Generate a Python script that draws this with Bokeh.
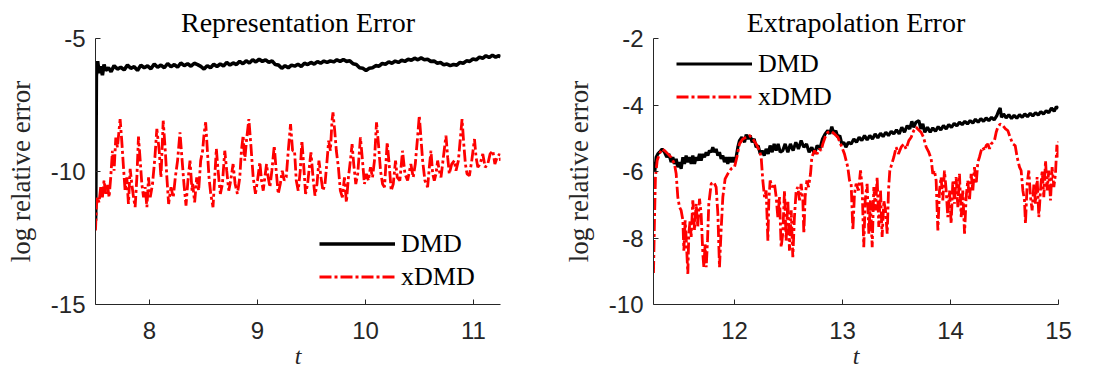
from bokeh.plotting import figure
from bokeh.models import Legend, LegendItem, Range1d, FixedTicker
from bokeh.layouts import row
from bokeh.embed import file_html
from bokeh.resources import INLINE

# ---------------- data: left panel (Representation Error) ----------------
rep_dmd_t = [7.5, 7.502, 7.508, 7.52, 7.533, 7.548, 7.564, 7.579, 7.595, 7.62, 7.644, 7.672, 7.703, 7.734,
             7.765, 7.796, 7.827, 7.858, 7.889, 7.92, 7.951, 7.982, 8.013, 8.044, 8.075, 8.106, 8.137, 8.168,
             8.199, 8.23, 8.26, 8.29, 8.322, 8.353, 8.384, 8.415, 8.445, 8.475, 8.505, 8.535, 8.565, 8.595,
             8.625, 8.655, 8.685, 8.715, 8.745, 8.775, 8.805, 8.835, 8.865, 8.895, 8.925, 8.955, 8.985, 9.015,
             9.045, 9.075, 9.105, 9.135, 9.165, 9.195, 9.225, 9.255, 9.285, 9.315, 9.345, 9.375, 9.405, 9.435,
             9.465, 9.495, 9.525, 9.555, 9.585, 9.615, 9.645, 9.675, 9.705, 9.735, 9.765, 9.795, 9.825, 9.855,
             9.885, 9.915, 9.945, 9.975, 10.005, 10.035, 10.065, 10.095, 10.125, 10.155, 10.185, 10.215, 10.245,
             10.275, 10.305, 10.335, 10.365, 10.395, 10.425, 10.455, 10.485, 10.515, 10.545, 10.575, 10.605,
             10.635, 10.665, 10.695, 10.725, 10.755, 10.785, 10.815, 10.845, 10.875, 10.905, 10.935, 10.965,
             10.995, 11.025, 11.055, 11.085, 11.115, 11.145, 11.175, 11.205, 11.235, 11.25]
rep_dmd = [-11.85, -11.6, -6.4, -5.85, -6.3, -6.05, -6.38, -5.98, -6.2, -6.1, -6.25, -6.02, -6.15, -6.08,
           -6.18, -6.0, -6.12, -6.06, -6.2, -6.0, -6.1, -6.03, -6.14, -5.96, -6.08, -6.0, -6.1, -5.94,
           -6.06, -5.98, -6.08, -5.92, -6.02, -5.95, -6.04, -5.93, -5.98, -6.05, -6.15, -6.02, -6.1, -5.97,
           -6.05, -5.96, -6.03, -5.9, -6.0, -5.92, -5.98, -5.86, -5.95, -5.84, -5.92, -5.8, -5.88, -5.78,
           -5.86, -5.8, -5.9, -5.84, -5.98, -6.0, -6.12, -6.02, -6.1, -6.0, -6.04, -5.97, -6.05, -5.93,
           -5.98, -5.9, -5.96, -5.87, -5.93, -5.85, -5.9, -5.84, -5.88, -5.8, -5.86, -5.79, -5.86, -5.84,
           -5.95, -5.98, -6.1, -6.12, -6.2, -6.12, -6.1, -6.02, -6.04, -5.94, -5.97, -5.88, -5.93,
           -5.85, -5.9, -5.82, -5.86, -5.78, -5.82, -5.74, -5.8, -5.73, -5.8, -5.78, -5.86,
           -5.85, -5.93, -5.9, -5.99, -5.96, -6.02, -5.98, -6.0, -5.9, -5.93, -5.84, -5.86,
           -5.77, -5.8, -5.7, -5.74, -5.65, -5.71, -5.63, -5.7, -5.64, -5.7]

rep_xdmd_t = [7.5, 7.508, 7.517, 7.533, 7.548, 7.564, 7.579, 7.595, 7.61, 7.626, 7.641, 7.657, 7.672, 7.688,
              7.703, 7.728, 7.743, 7.759, 7.774, 7.79, 7.805, 7.821, 7.836, 7.852, 7.867, 7.883, 7.898, 7.914,
              7.929, 7.945, 7.96, 7.976, 7.991, 8.007, 8.028, 8.05, 8.068, 8.09, 8.106, 8.127, 8.146, 8.161,
              8.177, 8.199, 8.22, 8.239, 8.26, 8.282, 8.3, 8.319, 8.338, 8.356, 8.375, 8.394,
              8.40, 8.418, 8.437, 8.455, 8.474, 8.492, 8.505, 8.52, 8.536, 8.551, 8.567, 8.588, 8.604, 8.619,
              8.635, 8.656, 8.675, 8.697, 8.715, 8.734, 8.752, 8.774, 8.793, 8.814, 8.836, 8.851, 8.867, 8.882,
              8.898, 8.92, 8.938, 8.96, 8.981, 9.0, 9.022, 9.037, 9.053, 9.068, 9.084, 9.099, 9.115, 9.133,
              9.155, 9.173, 9.192, 9.211, 9.229, 9.248, 9.266, 9.285, 9.306, 9.325,
              9.343, 9.359, 9.377, 9.396, 9.411, 9.427, 9.445, 9.464, 9.483, 9.495, 9.514, 9.532, 9.551, 9.569,
              9.588, 9.606, 9.625, 9.644, 9.659, 9.675, 9.69, 9.699, 9.715, 9.73, 9.749, 9.767, 9.786, 9.805,
              9.823, 9.842, 9.86, 9.876, 9.891, 9.91, 9.928, 9.953, 9.972, 9.99, 10.009, 10.027, 10.046, 10.065,
              10.083, 10.102, 10.12, 10.139, 10.158, 10.176, 10.201, 10.219, 10.238, 10.257, 10.278, 10.294,
              10.318, 10.343, 10.365, 10.39, 10.42, 10.442, 10.461, 10.482, 10.498, 10.513, 10.529, 10.55,
              10.575, 10.591, 10.606, 10.622, 10.637, 10.653, 10.668, 10.683, 10.699, 10.721, 10.745, 10.761,
              10.776, 10.798, 10.823, 10.838, 10.86, 10.879, 10.894, 10.91, 10.925, 10.94, 10.962, 10.984,
              11.009, 11.024, 11.04, 11.061, 11.086, 11.108, 11.132, 11.154, 11.179, 11.198, 11.219, 11.241, 11.25]
rep_xdmd = [-12.22, -11.34, -10.97, -11.16, -10.59, -10.97, -10.34, -10.84, -10.47, -10.97, -10.22, -9.22, -9.97, -8.72,
            -9.09, -8.03, -8.84, -9.84, -10.72, -10.22, -11.22, -9.9, -10.47, -10.97, -11.34, -10.22, -8.69, -9.59,
            -10.47, -10.97, -10.59, -11.34, -10.22, -10.97, -10.47, -9.47, -8.4, -9.22, -10.22, -8.09, -9.22, -10.22,
            -11.22, -10.59, -10.97, -10.22, -9.59, -8.53, -9.47, -10.47, -11.28, -10.34, -9.59, -10.72,
            -10.47, -11.16, -10.22, -10.72, -9.59, -9.22, -8.59, -8.15, -9.22, -10.22, -10.84, -11.34, -10.22, -9.15,
            -9.97, -10.84, -10.47, -9.22, -9.97, -10.72, -10.34, -9.72, -10.47, -10.84, -10.22, -9.22, -8.65, -9.59,
            -8.84, -8.03, -8.97, -10.22, -10.84, -10.34, -9.65, -10.34, -10.72, -10.22, -9.72, -10.22, -10.59, -9.97,
            -9.03, -9.97, -10.84, -10.47, -9.97, -10.34, -10.22, -9.22, -8.22, -9.22,
            -9.22, -10.34, -10.72, -9.97, -8.84, -9.72, -10.84, -10.47, -9.72, -9.28, -10.22, -10.91, -10.47, -9.59,
            -10.22, -10.72, -10.47, -9.59, -8.84, -9.22, -8.09, -7.78, -8.47, -9.22, -9.84, -10.72, -10.97, -10.22,
            -11.16, -10.22, -9.59, -8.97, -9.72, -10.47, -10.09, -8.72, -9.59, -10.47, -10.09, -10.34, -9.84, -10.22,
            -9.59, -8.15, -8.97, -9.97, -10.47, -10.59, -8.9, -9.72, -10.72, -10.47, -9.59, -10.22,
            -10.34, -9.22, -10.09, -10.34, -9.72, -10.22, -9.72, -8.72, -7.9, -8.72, -9.59, -10.34,
            -10.59, -9.84, -9.22, -10.09, -10.34, -10.09, -9.59, -9.97, -10.22, -9.47, -8.65, -9.47,
            -10.09, -9.72, -9.59, -9.97, -9.59, -8.72, -8.03, -8.97, -9.72, -10.09, -10.16, -9.59,
            -8.78, -9.47, -9.84, -9.72, -9.34, -9.84, -9.72, -9.34, -9.22, -9.72, -9.47, -9.34, -9.6]

# ---------------- data: right panel (Extrapolation Error) ----------------
ext_dmd_t = [11.25, 11.262, 11.275, 11.29, 11.305, 11.33, 11.352, 11.373, 11.392, 11.413, 11.429, 11.444, 11.46,
             11.475, 11.491, 11.506, 11.522, 11.537, 11.552, 11.568, 11.583, 11.599, 11.614, 11.63, 11.645, 11.66,
             11.676, 11.691, 11.707, 11.722, 11.738, 11.753, 11.768, 11.784, 11.799, 11.815, 11.83, 11.846, 11.861,
             11.876, 11.892, 11.907, 11.923, 11.938, 11.954, 11.969, 11.985, 12.0, 12.015, 12.031, 12.046, 12.068,
             12.093, 12.108, 12.126, 12.145, 12.164, 12.182, 12.2, 12.219, 12.238, 12.256, 12.275, 12.293, 12.312,
             12.33, 12.349, 12.367, 12.386, 12.404, 12.423, 12.447, 12.469, 12.494, 12.518, 12.543, 12.568, 12.592,
             12.617, 12.642, 12.667, 12.691, 12.716, 12.741, 12.765, 12.79, 12.815, 12.839, 12.864, 12.883, 12.901,
             12.92, 12.938, 12.957, 12.975, 12.994, 13.012, 13.031, 13.055, 13.08, 13.105, 13.13, 13.154, 13.179,
             13.204, 13.228, 13.253, 13.278, 13.302, 13.327, 13.352, 13.376, 13.401, 13.426, 13.451, 13.475, 13.5,
             13.525, 13.549, 13.574, 13.599, 13.623, 13.642, 13.66, 13.679, 13.707, 13.725, 13.744, 13.762, 13.787,
             13.812, 13.836, 13.861, 13.886, 13.91, 13.935, 13.96, 13.984, 14.009, 14.034, 14.059, 14.083, 14.108,
             14.133, 14.157, 14.182, 14.207, 14.231, 14.256, 14.281, 14.306, 14.33, 14.355, 14.38, 14.404, 14.429,
             14.447, 14.46, 14.472, 14.491, 14.515, 14.54, 14.565, 14.589, 14.614, 14.639, 14.664, 14.688, 14.713,
             14.738, 14.762, 14.787, 14.812, 14.836, 14.861, 14.886, 14.91, 14.935, 14.96, 14.98, 15.0]
ext_dmd = [-5.72, -6.0, -5.57, -5.47, -5.42, -5.32, -5.42, -5.57, -5.47, -5.72, -5.57, -5.77, -5.62,
           -5.87, -5.72, -5.92, -5.57, -5.77, -5.52, -5.72, -5.57, -5.77, -5.52, -5.77, -5.57, -5.67,
           -5.47, -5.67, -5.47, -5.57, -5.42, -5.52, -5.37, -5.42, -5.27, -5.42, -5.32, -5.52, -5.42,
           -5.62, -5.52, -5.72, -5.57, -5.77, -5.57, -5.72, -5.57, -5.72, -5.57, -5.27, -5.07, -4.97,
           -5.12, -4.89, -5.02, -4.92, -5.12, -5.02, -5.27, -5.22, -5.47, -5.37, -5.52, -5.32, -5.47,
           -5.22, -5.42, -5.17, -5.37, -5.17, -5.42, -5.37, -5.17, -5.42, -5.17, -5.37, -5.12, -5.32,
           -5.07, -5.27, -5.17, -5.42, -5.27, -5.47, -5.22, -5.32, -5.02, -4.87, -4.77, -4.87, -4.65,
           -4.87, -4.77, -4.97, -4.92, -5.17, -5.12, -5.27, -5.12, -5.17, -5.02, -5.12, -4.97, -5.07,
           -4.92, -5.05, -4.92, -5.02, -4.87, -4.99, -4.85, -4.95, -4.82, -4.92, -4.79, -4.87, -4.75,
           -4.87, -4.67, -4.82, -4.62, -4.72, -4.49, -4.67, -4.52, -4.47, -4.72, -4.57, -4.82, -4.67,
           -4.82, -4.69, -4.79, -4.65, -4.75, -4.62, -4.72, -4.59, -4.67, -4.55, -4.63, -4.52, -4.59,
           -4.49, -4.57, -4.47, -4.54, -4.43, -4.52, -4.41, -4.49, -4.39, -4.47, -4.37, -4.45, -4.32,
           -4.17, -4.09, -4.37, -4.27, -4.39, -4.29, -4.41, -4.31, -4.40, -4.29, -4.37, -4.27, -4.35,
           -4.25, -4.33, -4.23, -4.30, -4.20, -4.27, -4.17, -4.23, -4.09, -4.19, -4.05, -4.1]

ext_xdmd_t = [11.25, 11.259, 11.268, 11.284, 11.305, 11.33, 11.352, 11.383, 11.413, 11.444, 11.46, 11.475, 11.491,
              11.506, 11.522, 11.531, 11.543, 11.552, 11.568, 11.577, 11.589, 11.599, 11.614, 11.63, 11.645, 11.66,
              11.676, 11.691, 11.707, 11.716, 11.728, 11.738, 11.75, 11.762, 11.784, 11.809, 11.83, 11.846, 11.861,
              11.876, 11.892, 11.913, 11.938, 11.969, 12.0, 12.022, 12.046, 12.077, 12.108, 12.139, 12.17, 12.2,
              12.231, 12.247, 12.262, 12.278, 12.293, 12.309, 12.318, 12.33, 12.349, 12.37, 12.386, 12.401, 12.417,
              12.432, 12.447, 12.463, 12.478, 12.494, 12.509, 12.525, 12.54, 12.555, 12.571, 12.586, 12.602, 12.617,
              12.633, 12.642, 12.654, 12.67, 12.685, 12.704, 12.716, 12.741, 12.765, 12.787, 12.802, 12.818, 12.839,
              12.864, 12.895, 12.926, 12.957, 12.988, 13.018, 13.049, 13.065, 13.08, 13.096, 13.111, 13.126, 13.148,
              13.167, 13.182, 13.197, 13.21, 13.228, 13.244, 13.259, 13.275, 13.29, 13.305, 13.321, 13.336, 13.352,
              13.367, 13.383, 13.398, 13.414, 13.426, 13.438, 13.457, 13.475, 13.497, 13.518, 13.543, 13.568, 13.589,
              13.614, 13.636, 13.66, 13.682, 13.697, 13.728, 13.75, 13.775, 13.799, 13.821, 13.836, 13.852, 13.867,
              13.883, 13.898, 13.913, 13.929, 13.944, 13.96, 13.975, 13.991, 14.006, 14.022, 14.037, 14.052, 14.068,
              14.083, 14.099, 14.114, 14.13, 14.145, 14.16, 14.176, 14.191, 14.207, 14.222, 14.238, 14.253, 14.268,
              14.284, 14.299, 14.315, 14.33, 14.346, 14.361, 14.376, 14.392, 14.407, 14.423, 14.438, 14.46, 14.484,
              14.509, 14.531, 14.552, 14.577, 14.599, 14.617, 14.639, 14.654, 14.67, 14.685, 14.694, 14.71, 14.725,
              14.741, 14.756, 14.772, 14.787, 14.802, 14.818, 14.833, 14.849, 14.864, 14.88, 14.895, 14.91, 14.926,
              14.941, 14.957, 14.972, 14.985, 14.993, 15.0]
ext_xdmd = [-9.05, -7.48, -6.17, -5.67, -5.47, -5.32, -5.37, -5.47, -5.57, -5.77, -6.07, -6.77, -7.07,
            -7.17, -7.47, -8.38, -7.47, -7.97, -9.08, -7.87, -7.47, -7.97, -6.87, -7.77, -6.97, -7.67,
            -6.82, -7.27, -8.48, -8.88, -8.18, -8.88, -8.08, -6.97, -6.37, -6.32, -6.47, -7.27, -8.88,
            -7.77, -6.77, -6.22, -6.07, -5.92, -5.87, -5.57, -5.17, -5.02, -4.97, -4.92, -5.02, -5.17,
            -5.37, -5.57, -6.27, -6.77, -6.57, -8.08, -6.87, -6.27, -6.47, -6.37, -6.77, -7.37, -6.77,
            -8.28, -7.87, -6.57, -8.08, -6.87, -8.38, -7.17, -8.58, -7.37, -6.57, -6.47, -6.87, -6.37,
            -6.87, -7.87, -6.77, -6.27, -6.47, -6.07, -5.57, -5.37, -5.47, -5.32, -5.37, -5.17, -4.97,
            -4.82, -4.79, -4.87, -4.97, -5.22, -5.47, -5.87, -6.27, -6.37, -7.77, -6.67, -6.37, -6.57,
            -5.97, -6.47, -8.28, -6.87, -6.37, -7.87, -6.87, -8.28, -6.47, -7.17, -6.17, -7.67, -6.57,
            -7.97, -6.87, -7.17, -7.87, -6.57, -5.97, -5.77, -5.57, -5.27, -5.47, -5.27, -5.17, -5.32,
            -5.07, -4.97, -4.77, -4.67, -4.72, -4.82, -4.97, -5.27, -5.42, -5.62, -6.07, -5.97, -6.27,
            -7.77, -6.57, -6.17, -6.87, -5.97, -6.57, -7.37, -6.57, -7.57, -6.27, -6.97, -6.17, -7.07,
            -6.07, -7.37, -6.57, -7.87, -6.77, -6.27, -6.87, -6.07, -6.57, -5.87, -6.37, -5.72, -5.57,
            -5.37, -5.27, -5.37, -5.22, -5.17, -5.32, -5.17, -5.12, -5.07, -4.82, -4.67, -4.57, -4.62,
            -4.72, -4.77, -4.97, -5.17, -5.22, -5.57, -5.87, -5.97, -6.57, -6.87, -7.57, -6.37, -5.97,
            -6.77, -7.17, -6.37, -6.97, -6.17, -7.37, -6.57, -5.97, -6.77, -5.67, -6.57, -5.97, -6.87,
            -5.87, -6.47, -6.07, -5.2, -5.6, -5.1]

rep_xticks = [8, 9, 10, 11]
rep_yticks = [-15, -10, -5]
ext_xticks = [12, 13, 14, 15]
ext_yticks = [-10, -8, -6, -4, -2]

AX = "#262626"


def make_panel(title, xr, yr, xticks, yticks, t1, y1, t2, y2, border_left, border_right, legend_loc, black_w):
    p = figure(frame_width=405, frame_height=266,
               x_range=Range1d(*xr), y_range=Range1d(*yr),
               output_backend="svg", toolbar_location=None,
               min_border_left=border_left, min_border_right=border_right,
               min_border_top=38, min_border_bottom=73)
    p.outline_line_color = None
    p.xgrid.visible = False
    p.ygrid.visible = False
    p.background_fill_color = "white"
    p.border_fill_color = "white"

    p.title.text = title
    p.title.align = "center"
    p.title.text_font = "Liberation Serif"
    p.title.text_font_style = "normal"
    p.title.text_font_size = "28px"
    p.title.text_color = "black"
    p.title.standoff = 2

    for ax, ticks in ((p.xaxis[0], xticks), (p.yaxis[0], yticks)):
        ax.ticker = FixedTicker(ticks=ticks)
        ax.major_label_overrides = {v: str(v) for v in ticks}
        ax.major_tick_in = 5
        ax.major_tick_out = 0
        ax.minor_tick_line_color = None
        ax.axis_line_color = AX
        ax.major_tick_line_color = AX
        ax.major_label_text_font = "Liberation Sans"
        ax.major_label_text_font_size = "24px"
        ax.major_label_text_color = AX
        ax.axis_label_text_font = "Liberation Serif"
        ax.axis_label_text_color = AX
    p.xaxis.axis_label = "t"
    p.xaxis.axis_label_text_font_style = "italic"
    p.xaxis.axis_label_text_font_size = "24px"
    p.xaxis.major_label_standoff = 17
    p.xaxis.axis_label_standoff = 1
    p.yaxis.axis_label = "log relative error"
    p.yaxis.axis_label_text_font_style = "normal"
    p.yaxis.axis_label_text_font_size = "27px"
    p.yaxis.major_label_standoff = 10
    p.yaxis.axis_label_standoff = 12

    r1 = p.line(t1, y1, line_color="black", line_width=black_w)
    r2 = p.line(t2, y2, line_color="red", line_width=2.8, line_dash="12 3 3 3")

    leg = Legend(items=[LegendItem(label="DMD", renderers=[r1]),
                        LegendItem(label="xDMD", renderers=[r2])],
                 location=legend_loc, padding=0, spacing=0, margin=0,
                 glyph_width=76, glyph_height=33, label_height=33,
                 label_standoff=6,
                 label_text_font="Liberation Serif", label_text_font_size="26px",
                 label_text_color="black",
                 border_line_alpha=0, background_fill_alpha=0)
    p.add_layout(leg)
    return p


p1 = make_panel("Representation Error", (7.5, 11.25), (-15, -5), rep_xticks, rep_yticks,
                rep_dmd_t, rep_dmd, rep_xdmd_t, rep_xdmd, 95, 48, (224, 11), 3.6)
p2 = make_panel("Extrapolation Error", (11.25, 15), (-10, -2), ext_xticks, ext_yticks,
                ext_dmd_t, ext_dmd, ext_xdmd_t, ext_xdmd, 105, 38, (23, 191), 3.2)

layout = row(p1, p2)
open("out.html", "w").write(file_html(layout, INLINE))
